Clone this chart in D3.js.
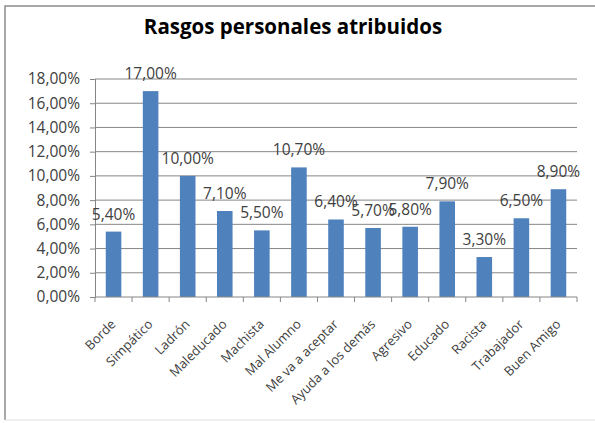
<!DOCTYPE html>
<html><head><meta charset="utf-8">
<script src="https://cdn.jsdelivr.net/npm/d3@7"></script>
<style>body{margin:0;background:#fff}svg{display:block}</style>
</head><body>
<script>
const categories = ["Borde","Simpático","Ladrón","Maleducado","Machista","Mal Alumno","Me va a aceptar","Ayuda a los demás","Agresivo","Educado","Racista","Trabajador","Buen Amigo"];
const values = [5.4,17.0,10.0,7.1,5.5,10.7,6.4,5.7,5.8,7.9,3.3,6.5,8.9];
const yTicks = [0,2,4,6,8,10,12,14,16,18];
const title = "Rasgos personales atribuidos";

const W=595,H=423;
const m={left:95,right:18,top:79,bottom:126};
const svg=d3.select("body").append("svg").attr("width",W).attr("height",H);
const font="'Open Sans', 'Liberation Sans', sans-serif";
const fmt=v=>d3.format(".2f")(v).replace(".",",")+"%";

// frame
svg.append("path").attr("d",`M5,420 L5,6 L595,6`).attr("fill","none").attr("stroke","#8c8c8c").attr("stroke-width",1.5);
svg.append("line").attr("x1",5).attr("x2",595).attr("y1",420).attr("y2",420).attr("stroke","#e0e0e0");

const x=d3.scaleBand().domain(categories).range([m.left,W-m.right]).paddingInner(0.58).paddingOuter(0.29);
const xb=d3.scaleLinear().domain([0,categories.length]).range([m.left,W-m.right]);
const y=d3.scaleLinear().domain([0,18]).range([H-m.bottom,m.top]);

// gridlines
svg.append("g").selectAll("line").data(yTicks.filter(t=>t>0)).join("line")
 .attr("x1",m.left).attr("x2",W-m.right).attr("y1",d=>y(d)).attr("y2",d=>y(d))
 .attr("stroke","#868686").attr("stroke-width",1);

// y axis
const ya=svg.append("g").attr("transform",`translate(${m.left},0)`)
 .call(d3.axisLeft(y).tickValues(yTicks).tickFormat(fmt).tickSize(5).tickPadding(10));
ya.select(".domain").attr("stroke","#868686");
ya.selectAll(".tick line").attr("stroke","#868686");
ya.selectAll("text").attr("font-family",font).attr("font-size",15.5).attr("fill","#404040");

// bars
svg.append("g").selectAll("rect").data(values).join("rect")
 .attr("x",(d,i)=>x(categories[i])).attr("width",x.bandwidth())
 .attr("y",d=>y(d)).attr("height",d=>y(0)-y(d)).attr("fill","#4f81bd");

// x axis
svg.append("line").attr("x1",m.left).attr("x2",W-m.right).attr("y1",y(0)).attr("y2",y(0)).attr("stroke","#868686");
svg.append("g").selectAll("line").data(d3.range(categories.length+1)).join("line")
 .attr("x1",d=>xb(d)).attr("x2",d=>xb(d)).attr("y1",y(0)).attr("y2",y(0)+5).attr("stroke","#868686");

svg.append("g").selectAll("text").data(categories).join("text")
 .attr("transform",d=>`translate(${x(d)+x.bandwidth()/2+3},${y(0)+28}) rotate(-45)`)
 .attr("text-anchor","end").attr("font-family",font).attr("font-size",13).attr("fill","#404040")
 .text(d=>d);

// data labels
svg.append("g").selectAll("text").data(values).join("text")
 .attr("x",(d,i)=>x(categories[i])+x.bandwidth()/2).attr("y",d=>y(d)-12)
 .attr("text-anchor","middle").attr("font-family",font).attr("font-size",15.5).attr("fill","#404040")
 .text(d=>fmt(d));

// title
svg.append("text").attr("x",293).attr("y",34).attr("text-anchor","middle")
 .attr("font-family",font).attr("font-weight","bold").attr("font-size",20.5).attr("fill","#000").text(title);
</script>
</body></html>
